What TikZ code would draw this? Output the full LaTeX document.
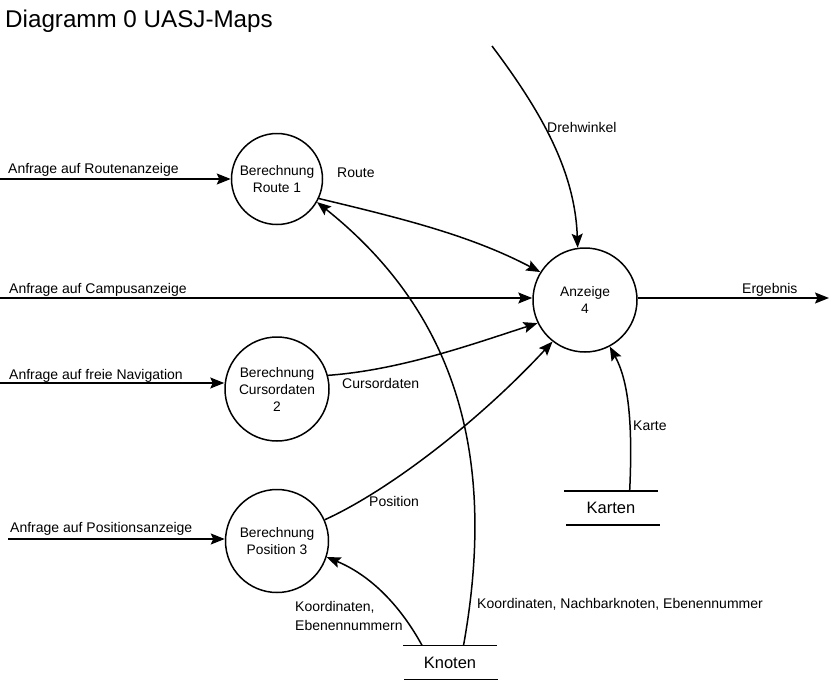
\documentclass[tikz,border=0pt]{standalone}
\usepackage{fontspec}
\setmainfont{Liberation Sans}
\usetikzlibrary{arrows.meta,calc}
\begin{document}
\begin{tikzpicture}[x=1pt,y=-1pt,
  lw/.style={line width=1.5pt},
  flow/.style={lw,-{Stealth[length=14pt,width=11pt,inset=2.5pt]}},
  proc/.style={circle,draw,lw,inner sep=0pt,align=center,font=\fontsize{13.8}{17}\selectfont},
  lbl/.style={inner sep=0pt,anchor=base west,font=\fontsize{14}{19}\selectfont},
  store/.style={inner sep=0pt,minimum width=93pt,minimum height=34pt,font=\fontsize{16.5}{20}\selectfont}
]
\useasboundingbox (0,0) rectangle (830,683);

% title
\node[inner sep=0pt,anchor=base west,font=\fontsize{24.2}{30}\selectfont] (title) at (5,27) {Diagramm 0 UASJ-Maps};

% processes
\node[proc,minimum size=91pt] (c1) at (277,179) {Berechnung\\Route 1};
\node[proc,minimum size=104pt] (c2) at (277,389) {Berechnung\\Cursordaten\\2};
\node[proc,minimum size=103pt] (c3) at (277,541) {Berechnung\\Position 3};
\node[proc,minimum size=104pt] (c4) at (585,300) {Anzeige\\4};

% stores
\node[store] (karten) at (611,508) {Karten};
\draw[lw] (karten.north west) -- (karten.north east);
\draw[lw] ([xshift=2pt]karten.south west) -- ([xshift=2pt]karten.south east);
\node[store] (knoten) at (450,662.5) {Knoten};
\draw[lw] (knoten.north west) -- (knoten.north east);
\draw[lw] ([xshift=1pt]knoten.south west) -- ([xshift=1pt]knoten.south east);

% free ends
\coordinate (in1) at (0,179);
\coordinate (in2) at (0,298);
\coordinate (in3) at (0,383);
\coordinate (in4) at (8,539);
\coordinate (dw) at (492,46);
\coordinate (out) at (829,298);
\coordinate (kt) at ($(karten.north west)!0.7!(karten.north east)$);
\coordinate (kn1) at ($(knoten.north west)!0.2!(knoten.north east)$);
\coordinate (kn2) at ($(knoten.north west)!0.645!(knoten.north east)$);

% inputs
\draw[flow] (in1) -- (in1 -| c1.west);
\node[lbl] (t1) at (8,173) {Anfrage auf Routenanzeige};
\draw[flow] (in2) -- (in2 -| c4.west);
\node[lbl] (t2) at (9,293) {Anfrage auf Campusanzeige};
\draw[flow] (in3) -- (in3 -| c2.west);
\node[lbl] (t3) at (9,379) {Anfrage auf freie Navigation};
\draw[flow] (in4) -- (in4 -| c3.west);
\node[lbl] (t4) at (10,532) {Anfrage auf Positionsanzeige};

% output
\draw[flow] (c4.east |- out) -- (out);
\node[lbl] (t5) at (742,293) {Ergebnis};

% Drehwinkel
\draw[flow] (dw) .. controls (540,110) and (575,170) .. (c4.98);
\node[lbl] (t6) at (547,132) {Drehwinkel};

% Route
\draw[flow] (c1.-25) .. controls (400,218) and (470,235) .. (c4.148);
\node[lbl] (t7) at (337,177) {Route};

% Cursordaten
\draw[flow] (c2.15) .. controls (400,370) and (470,345) .. (c4.206);
\node[lbl] (t8) at (342,388) {Cursordaten};

% Position
\draw[flow] (c3.24) .. controls (390,490) and (480,420) .. (c4.232);
\node[lbl] (t9) at (369,506) {Position};

% Karte
\draw[flow] (kt) .. controls (633,420) and (628,380) .. (c4.-62);
\node[lbl] (t10) at (633,430) {Karte};

% Knoten -> Route 1
\draw[flow] (kn2) .. controls (495,470) and (465,320) .. (c1.-30);
\node[lbl] (t11) at (477,608) {Koordinaten, Nachbarknoten, Ebenennummer};

% Knoten -> Position 3
\draw[flow] (kn1) .. controls (400,605) and (370,575) .. (c3.-18);
\node[lbl,align=left,anchor=north west] (t12) at (295,601) {Koordinaten,\\Ebenennummern};

\end{tikzpicture}
\end{document}
